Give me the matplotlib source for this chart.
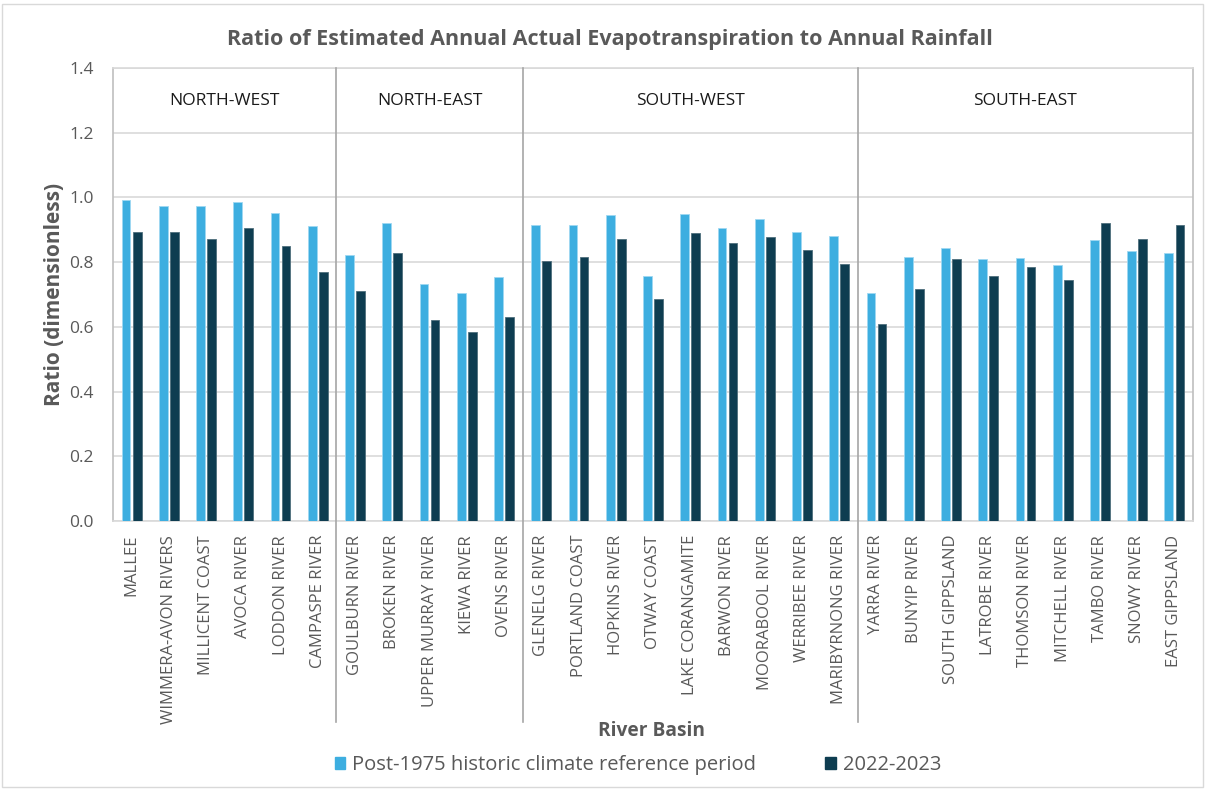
import matplotlib
matplotlib.use("Agg")
import matplotlib.pyplot as plt
import matplotlib.transforms as mtransforms
from matplotlib.patches import Rectangle, Patch
import numpy as np

plt.rcParams['font.family'] = ['Open Sans', 'DejaVu Sans']

basins = ["MALLEE", "WIMMERA-AVON RIVERS", "MILLICENT COAST", "AVOCA RIVER",
          "LODDON RIVER", "CAMPASPE RIVER",
          "GOULBURN RIVER", "BROKEN RIVER", "UPPER MURRAY RIVER", "KIEWA RIVER",
          "OVENS RIVER",
          "GLENELG RIVER", "PORTLAND COAST", "HOPKINS RIVER", "OTWAY COAST",
          "LAKE CORANGAMITE", "BARWON RIVER", "MOORABOOL RIVER", "WERRIBEE RIVER",
          "MARIBYRNONG RIVER",
          "YARRA RIVER", "BUNYIP RIVER", "SOUTH GIPPSLAND", "LATROBE RIVER",
          "THOMSON RIVER", "MITCHELL RIVER", "TAMBO RIVER", "SNOWY RIVER",
          "EAST GIPPSLAND"]

historic = [0.992, 0.973, 0.975, 0.986, 0.953, 0.911,
            0.821, 0.922, 0.731, 0.706, 0.753,
            0.915, 0.915, 0.947, 0.756, 0.949, 0.906, 0.933, 0.894, 0.880,
            0.704, 0.817, 0.844, 0.810, 0.812, 0.790, 0.868, 0.834, 0.827]

recent = [0.893, 0.893, 0.872, 0.905, 0.849, 0.770,
          0.712, 0.827, 0.621, 0.585, 0.630,
          0.804, 0.817, 0.870, 0.686, 0.890, 0.859, 0.878, 0.836, 0.794,
          0.609, 0.717, 0.810, 0.756, 0.785, 0.746, 0.922, 0.870, 0.915]

regions = ["NORTH-WEST", "NORTH-EAST", "SOUTH-WEST", "SOUTH-EAST"]
region_sizes = [6, 5, 9, 9]

series_names = ["Post-1975 historic climate reference period", "2022-2023"]
colors = ["#3DAEE0", "#0E3D51"]
text_grey = "#595959"

fig = plt.figure(figsize=(12.05, 7.89), dpi=100)
ax = fig.add_axes([113 / 1205, 1 - 521 / 789, 1080 / 1205, 453 / 789])

x = np.arange(len(basins))
w = 0.235
off = 0.148
ax.bar(x - off, historic, width=w, color=colors[0], edgecolor="#9FD8F2",
       linewidth=0.6, zorder=3)
ax.bar(x + off, recent, width=w, color=colors[1], edgecolor="#4F6F7D",
       linewidth=0.6, zorder=3)

ax.set_xlim(-0.5, len(basins) - 0.5)
ax.set_ylim(0, 1.4)
ax.set_yticks(np.arange(0, 1.41, 0.2))
ax.set_yticklabels([f"{v:.1f}" for v in np.arange(0, 1.41, 0.2)])
ax.yaxis.grid(True, color="#D9D9D9", linewidth=1.2, zorder=0)
ax.set_axisbelow(True)
ax.set_xticks(x)
ax.set_xticklabels(basins, rotation=90, fontsize=12, color=text_grey)
ax.tick_params(axis='both', length=0)
ax.tick_params(axis='y', labelsize=12.5, labelcolor=text_grey, pad=14)
ax.tick_params(axis='x', pad=10)

for side in ["left", "right"]:
    ax.spines[side].set_color("#BFBFBF")
    ax.spines[side].set_linewidth(1.2)
ax.spines["top"].set_color("#D9D9D9")
ax.spines["top"].set_linewidth(1.2)
ax.spines["bottom"].set_color("#D9D9D9")
ax.spines["bottom"].set_linewidth(1.2)

# Region dividers and headers
trans = mtransforms.blended_transform_factory(ax.transData, ax.transAxes)
start = 0
for name, n in zip(regions, region_sizes):
    end = start + n
    center = (start + end - 1) / 2
    ax.text(center, 1.298, name, ha="center", va="center", fontsize=12.5,
            color="#1A1A1A")
    if end < len(basins):
        ax.plot([end - 0.5, end - 0.5], [-0.444, 1], transform=trans,
                color="#A6A6A6", linewidth=1.2, clip_on=False, zorder=4)
    start = end

ax.set_ylabel("Ratio (dimensionless)", fontsize=15, fontweight="bold",
              color=text_grey, labelpad=3)
fig.text(652 / 1205, 1 - 731 / 789, "River Basin", ha="center", va="center",
         fontsize=13.8, fontweight="bold", color=text_grey)
fig.text(610 / 1205, 1 - 40 / 789,
         "Ratio of Estimated Annual Actual Evapotranspiration to Annual Rainfall",
         ha="center", va="center", fontsize=15.5, fontweight="bold",
         color=text_grey)

handles = [Patch(facecolor=c, edgecolor=c) for c in colors]
fig.legend(handles, series_names, loc="center", ncol=2,
           bbox_to_anchor=(638 / 1205, 1 - 765 / 789), frameon=False,
           fontsize=14.5, labelcolor=text_grey, handlelength=0.5,
           handleheight=0.6, handletextpad=0.35, columnspacing=3.45)

fig.patches.append(Rectangle((0.002, 0.003), 0.996, 0.992,
                             transform=fig.transFigure, fill=False,
                             edgecolor="#D9D9D9", linewidth=1))

fig.savefig("out.png", dpi=100)
